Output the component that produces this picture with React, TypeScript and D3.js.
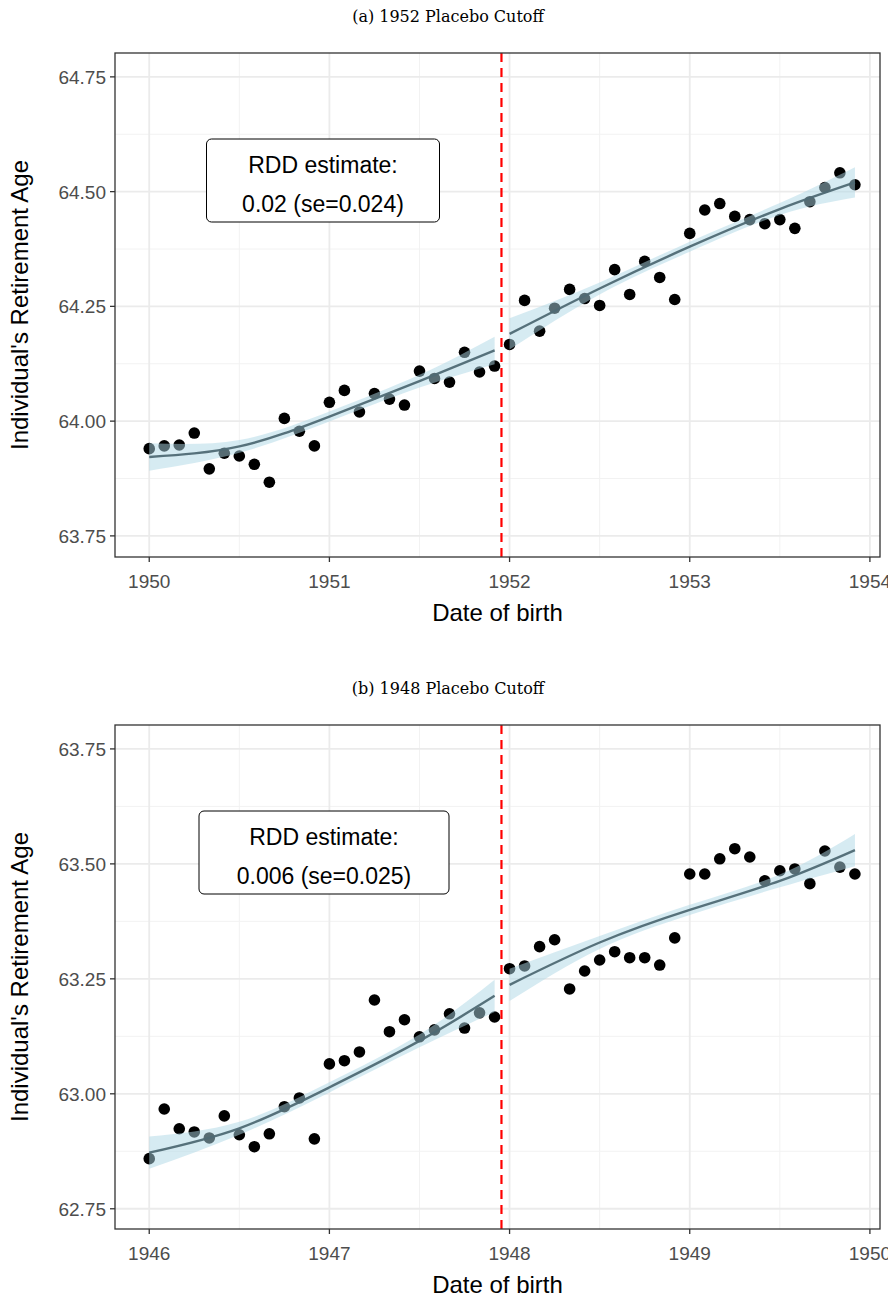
import * as d3 from "d3";

// ---- Panel (a): 1952 placebo cutoff ----
const aValues = [
  63.94, 63.946, 63.948, 63.974, 63.896, 63.93, 63.924, 63.906, 63.867, 64.006, 63.978, 63.946,
  64.041, 64.067, 64.02, 64.06, 64.048, 64.035, 64.109, 64.093, 64.085, 64.15, 64.107, 64.12,
  64.167, 64.263, 64.196, 64.246, 64.287, 64.267, 64.252, 64.33, 64.276, 64.348, 64.313, 64.265,
  64.409, 64.46, 64.474, 64.446, 64.439, 64.43, 64.439, 64.42, 64.478, 64.509, 64.541, 64.515,
];
const aFitLeftX = [0, 0.5, 1.0, 1.5, 1.917];
const aFitLeft = [63.922, 63.945, 64.01, 64.087, 64.154];
const aSeLeft = [0.03, 0.014, 0.011, 0.014, 0.03];
const aFitRightX = [2.0, 2.5, 3.0, 3.5, 3.917];
const aFitRight = [64.19, 64.289, 64.38, 64.462, 64.52];
const aSeRight = [0.034, 0.013, 0.011, 0.013, 0.033];
const aYTicks = [63.75, 64.0, 64.25, 64.5, 64.75];

// ---- Panel (b): 1948 placebo cutoff ----
const bValues = [
  62.859, 62.967, 62.924, 62.917, 62.904, 62.952, 62.911, 62.885, 62.913, 62.972, 62.991, 62.902,
  63.065, 63.072, 63.091, 63.204, 63.135, 63.161, 63.124, 63.139, 63.174, 63.143, 63.176, 63.167,
  63.272, 63.278, 63.32, 63.335, 63.228, 63.267, 63.291, 63.309, 63.296, 63.296, 63.28, 63.339,
  63.478, 63.478, 63.511, 63.533, 63.515, 63.463, 63.485, 63.489, 63.457, 63.528, 63.493, 63.478,
];
const bFitLeftX = [0, 0.5, 1.0, 1.5, 1.917];
const bFitLeft = [62.872, 62.925, 63.014, 63.115, 63.213];
const bSeLeft = [0.035, 0.014, 0.011, 0.014, 0.035];
const bFitRightX = [2.0, 2.5, 3.0, 3.5, 3.917];
const bFitRight = [63.237, 63.329, 63.4, 63.463, 63.53];
const bSeRight = [0.035, 0.014, 0.011, 0.014, 0.035];
const bYTicks = [62.75, 63.0, 63.25, 63.5, 63.75];

const W = 888;
const left = 115, right = 880;
const sans = "'Liberation Sans', Arial, sans-serif";

interface PanelProps {
  top: number;
  title: string;
  startYear: number;
  values: number[];
  fitL: [number[], number[], number[]];
  fitR: [number[], number[], number[]];
  yTicks: number[];
  yDomain: [number, number];
  estimate: string;
  box: [number, number]; // x-center, width
}

function Panel({ top, title, startYear, values, fitL, fitR, yTicks, yDomain, estimate, box }: PanelProps) {
  const pTop = top + 53, pBot = top + 557;
  const x = d3.scaleLinear().domain([startYear - 0.19, startYear + 4.056]).range([left, right]);
  const y = d3.scaleLinear().domain(yDomain).range([pBot, pTop]);
  const xTicks = d3.range(startYear, startYear + 5, 1);
  const xMinor = d3.range(startYear - 0.5, startYear + 4.5, 1).filter((v) => x(v) > left && x(v) < right);
  const yMinor = yTicks.map((t) => t - 0.125).concat([yTicks[yTicks.length - 1] + 0.125]).filter((v) => y(v) > pTop && y(v) < pBot);
  const cutoff = startYear + 1.955;

  const seg = ([xs, fs, ss]: [number[], number[], number[]], k: number) => {
    const pts = xs.map((v, i) => ({ x: startYear + v, f: fs[i], s: ss[i] }));
    const area = d3.area<typeof pts[0]>().x((d) => x(d.x)).y0((d) => y(d.f - d.s)).y1((d) => y(d.f + d.s)).curve(d3.curveNatural);
    const line = d3.line<typeof pts[0]>().x((d) => x(d.x)).y((d) => y(d.f)).curve(d3.curveNatural);
    return (
      <g key={k}>
        <path d={area(pts) ?? ""} fill="#add8e6" fillOpacity={0.5} />
        <path d={line(pts) ?? ""} fill="none" stroke="#4f6a74" strokeWidth={2.4} strokeOpacity={0.95} />
      </g>
    );
  };

  return (
    <g>
      <text x={W / 2 + 4} y={top + 22} textAnchor="middle" fontFamily="'DejaVu Serif', serif" fontSize={16} fill="#000">{title}</text>
      <rect x={left} y={pTop} width={right - left} height={pBot - pTop} fill="#fff" />
      {xMinor.map((v) => <line key={"xm" + v} x1={x(v)} x2={x(v)} y1={pTop} y2={pBot} stroke="#f2f2f2" strokeWidth={1} />)}
      {yMinor.map((v) => <line key={"ym" + v} x1={left} x2={right} y1={y(v)} y2={y(v)} stroke="#f2f2f2" strokeWidth={1} />)}
      {xTicks.map((v) => <line key={"xg" + v} x1={x(v)} x2={x(v)} y1={pTop} y2={pBot} stroke="#ebebeb" strokeWidth={1.8} />)}
      {yTicks.map((v) => <line key={"yg" + v} x1={left} x2={right} y1={y(v)} y2={y(v)} stroke="#ebebeb" strokeWidth={1.8} />)}
      {values.map((v, i) => <circle key={i} cx={x(startYear + i / 12)} cy={y(v)} r={5.8} fill="#000" />)}
      {seg(fitL, 0)}
      {seg(fitR, 1)}
      <line x1={x(cutoff)} x2={x(cutoff)} y1={pTop} y2={pBot} stroke="#ff0000" strokeWidth={2.2} strokeDasharray="9,6" />
      <rect x={box[0] - box[1] / 2} y={top + 139} width={box[1]} height={83} rx={5} fill="#fff" stroke="#000" strokeWidth={1} />
      <text x={box[0]} y={top + 173} textAnchor="middle" fontFamily={sans} fontSize={23} fill="#000">RDD estimate:</text>
      <text x={box[0]} y={top + 212} textAnchor="middle" fontFamily={sans} fontSize={23} fill="#000">{estimate}</text>
      <rect x={left} y={pTop} width={right - left} height={pBot - pTop} fill="none" stroke="#333" strokeWidth={1.3} />
      {xTicks.map((v) => (
        <g key={"xt" + v}>
          <line x1={x(v)} x2={x(v)} y1={pBot} y2={pBot + 5} stroke="#333" strokeWidth={1.3} />
          <text x={x(v)} y={pBot + 31} textAnchor="middle" fontFamily={sans} fontSize={19} fill="#4d4d4d">{v}</text>
        </g>
      ))}
      {yTicks.map((v) => (
        <g key={"yt" + v}>
          <line x1={left - 5} x2={left} y1={y(v)} y2={y(v)} stroke="#333" strokeWidth={1.3} />
          <text x={left - 9} y={y(v) + 7} textAnchor="end" fontFamily={sans} fontSize={19} fill="#4d4d4d">{v.toFixed(2)}</text>
        </g>
      ))}
      <text x={(left + right) / 2} y={pBot + 64} textAnchor="middle" fontFamily={sans} fontSize={24} fill="#000">Date of birth</text>
      <text transform={`translate(28,${(pTop + pBot) / 2}) rotate(-90)`} textAnchor="middle" fontFamily={sans} fontSize={24} fill="#000">Individual's Retirement Age</text>
    </g>
  );
}

export default function App() {
  return (
    <svg width={W} height={1297} viewBox={`0 0 ${W} 1297`} style={{ position: "absolute", left: 0, top: 0, background: "#fff" }}>
      <Panel top={0} title="(a) 1952 Placebo Cutoff" startYear={1950} values={aValues}
        fitL={[aFitLeftX, aFitLeft, aSeLeft]} fitR={[aFitRightX, aFitRight, aSeRight]}
        yTicks={aYTicks} yDomain={[63.704, 64.802]} estimate="0.02 (se=0.024)" box={[323, 233]} />
      <Panel top={672} title="(b) 1948 Placebo Cutoff" startYear={1946} values={bValues}
        fitL={[bFitLeftX, bFitLeft, bSeLeft]} fitR={[bFitRightX, bFitRight, bSeRight]}
        yTicks={bYTicks} yDomain={[62.706, 63.802]} estimate="0.006 (se=0.025)" box={[324, 250]} />
    </svg>
  );
}
